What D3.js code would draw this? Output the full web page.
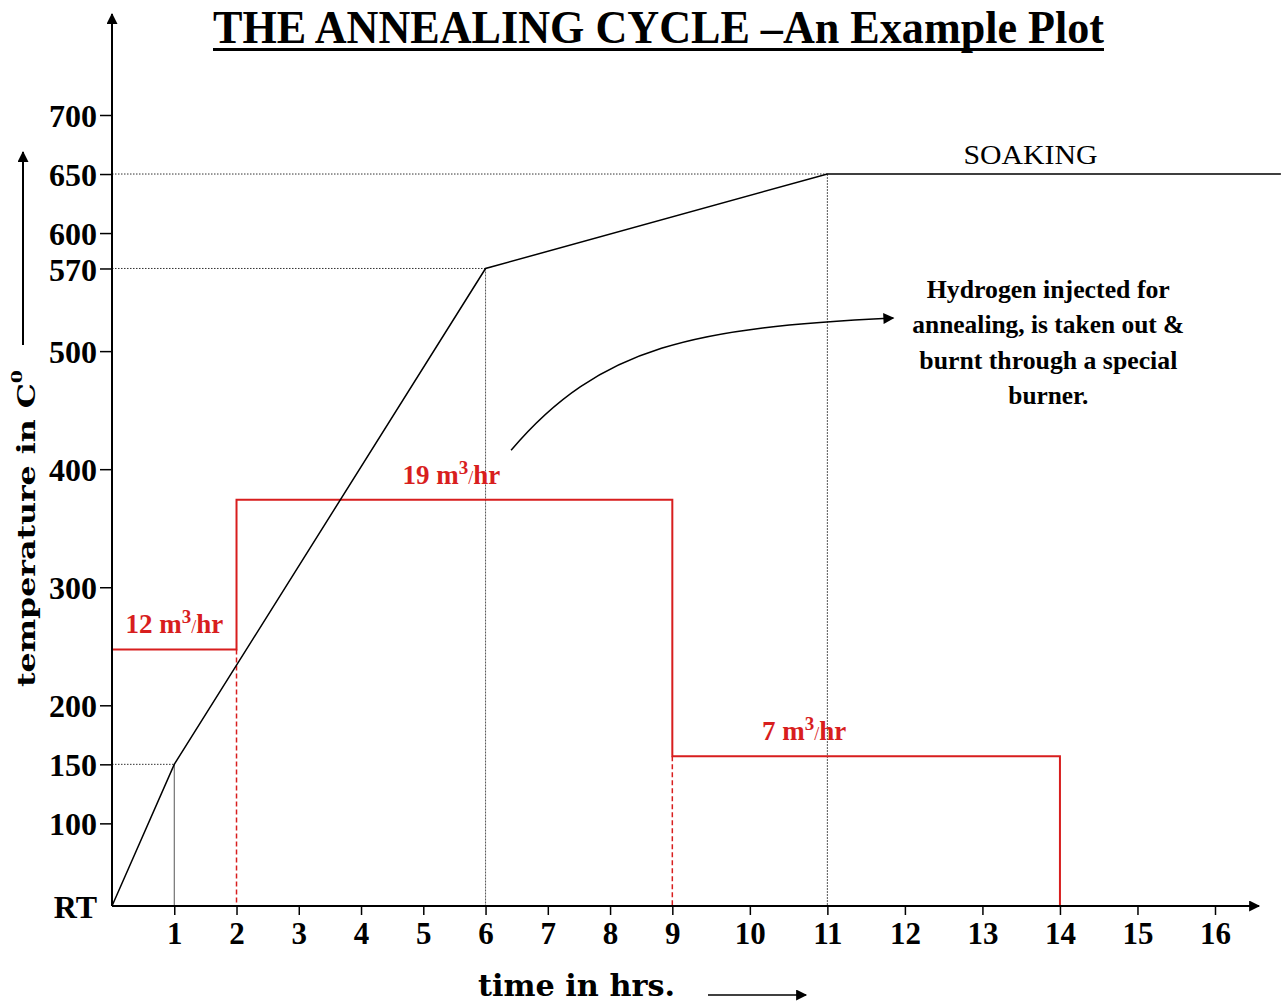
<!DOCTYPE html>
<html>
<head>
<meta charset="utf-8">
<script src="https://cdn.jsdelivr.net/npm/d3@7"></script>
<style>
  body { margin: 0; background: #fff; }
  text { font-family: "Liberation Serif", "Times New Roman", serif; }
</style>
</head>
<body>
<div id="chart"></div>
<script>
var svgWidth = 1287;
var svgHeight = 1006;

var margin = { top: 115, right: 72, bottom: 100, left: 112 };
var width = 1215 - margin.left;   // plot runs up to the "16" tick
var height = 906 - margin.top;

// temperature profile (RT = room temperature)
var RT = 30;
var tempTimes = [0, 1, 6, 11, 16.85];
var tempValues = [RT, 150, 570, 650, 650];

// hydrogen flow in m3/hr, changes at these times
var flowTimes = [0, 2, 9, 14];
var flowRates = [12, 19, 7, 0];

// where the flow labels sit
var flowLabelTimes = [1, 5.45, 10.7];
var flowLabelRates = [12, 19, 7];

var xTicks = d3.range(1, 17);
var yTicks = [RT, 100, 150, 200, 300, 400, 500, 570, 600, 650, 700];

var noteLines = ["Hydrogen injected for", "annealing, is taken out &",
  "burnt through a special", "burner."];
var noteWidths = [243, 272, 258, 80];

var red = "#d81e1e";

var svg = d3.select("#chart")
  .append("svg")
  .attr("width", svgWidth)
  .attr("height", svgHeight);

// arrow head
svg.append("defs").append("marker")
  .attr("id", "arrow")
  .attr("viewBox", "0 0 10 10")
  .attr("refX", 9)
  .attr("refY", 5)
  .attr("markerUnits", "userSpaceOnUse")
  .attr("markerWidth", 14)
  .attr("markerHeight", 11)
  .attr("orient", "auto")
  .append("path")
  .attr("d", "M0,0 L10,5 L0,10 z")
  .attr("fill", "#000");

var chartGroup = svg.append("g")
  .attr("transform", `translate(${margin.left}, ${margin.top})`);

// time axis is drawn wider after 9 hrs, like the original sketch
var x = d3.scaleLinear()
  .domain([0, 9, 16])
  .range([0, width * 0.508, width]);

var y = d3.scaleLinear()
  .domain([RT, 700])
  .range([height, 0]);

// second (hidden) scale for the hydrogen flow
var flowY = d3.scaleLinear()
  .domain([0, 37])
  .range([height, 0]);

var tempData = tempTimes.map((t, i) => ({ t: t, v: tempValues[i] }));
var flowData = flowTimes.map((t, i) => ({ t: t, v: flowRates[i] }));

// dotted guides to the break points
var guides = tempData.slice(1, 4);

chartGroup.selectAll(".hguide")
  .data(guides)
  .enter()
  .append("line")
  .attr("x1", 0)
  .attr("x2", d => x(d.t))
  .attr("y1", d => y(d.v))
  .attr("y2", d => y(d.v))
  .attr("stroke", "#333")
  .attr("stroke-width", 1)
  .attr("stroke-dasharray", "1.5,1.5");

chartGroup.selectAll(".vguide")
  .data(guides)
  .enter()
  .append("line")
  .attr("x1", d => x(d.t))
  .attr("x2", d => x(d.t))
  .attr("y1", d => y(d.v))
  .attr("y2", height)
  .attr("stroke", "#555")
  .attr("stroke-width", 1)
  .attr("stroke-dasharray", (d, i) => i === 0 ? null : "2,1");

// hydrogen flow steps
var stepLine = d3.line()
  .x(d => x(d.t))
  .y(d => flowY(d.v))
  .curve(d3.curveStepAfter);

chartGroup.append("path")
  .datum(flowData)
  .attr("d", stepLine)
  .attr("fill", "none")
  .attr("stroke", red)
  .attr("stroke-width", 2);

// dashed drops at the step changes
var drops = flowData.slice(1, -1).map((d, i) => ({
  t: d.t, v: Math.min(d.v, flowData[i].v)
}));

chartGroup.selectAll(".drop")
  .data(drops)
  .enter()
  .append("line")
  .attr("x1", d => x(d.t))
  .attr("x2", d => x(d.t))
  .attr("y1", d => flowY(d.v))
  .attr("y2", height)
  .attr("stroke", red)
  .attr("stroke-width", 1.5)
  .attr("stroke-dasharray", "5,3");

var flowLabels = chartGroup.selectAll(".flowLabel")
  .data(flowLabelTimes)
  .enter()
  .append("text")
  .attr("x", d => x(d))
  .attr("y", (d, i) => flowY(flowLabelRates[i]) - 16)
  .attr("text-anchor", "middle")
  .attr("fill", red)
  .attr("font-weight", "bold")
  .attr("font-size", "27px");

flowLabels.append("tspan").text((d, i) => flowLabelRates[i] + " m");
flowLabels.append("tspan")
  .attr("font-size", "19px")
  .attr("dy", -10)
  .text("3");
flowLabels.append("tspan")
  .attr("dy", 10)
  .attr("font-size", "18px")
  .attr("font-weight", "normal")
  .text("/");
flowLabels.append("tspan").text("hr");

// temperature curve
var tempLine = d3.line()
  .x(d => x(d.t))
  .y(d => y(d.v));

chartGroup.append("path")
  .datum(tempData)
  .attr("d", tempLine)
  .attr("fill", "none")
  .attr("stroke", "#000")
  .attr("stroke-width", 1.5);

chartGroup.append("text")
  .attr("x", x(13.62))
  .attr("y", y(650) - 10)
  .attr("text-anchor", "middle")
  .attr("font-size", "28px")
  .attr("textLength", 134)
  .attr("lengthAdjust", "spacingAndGlyphs")
  .text("SOAKING");

// note about the hydrogen
chartGroup.selectAll(".note")
  .data(noteLines)
  .enter()
  .append("text")
  .attr("x", x(13.85))
  .attr("y", (d, i) => y(545) + i * 35.5)
  .attr("text-anchor", "middle")
  .attr("font-weight", "bold")
  .attr("font-size", "26px")
  .attr("textLength", (d, i) => noteWidths[i])
  .attr("lengthAdjust", "spacingAndGlyphs")
  .text(d => d);

var curve = d3.path();
curve.moveTo(x(6.41), y(416));
curve.bezierCurveTo(x(7.84), y(505), x(9.3), y(520), x(11.85), y(528));
chartGroup.append("path")
  .attr("d", curve.toString())
  .attr("fill", "none")
  .attr("stroke", "#000")
  .attr("stroke-width", 1.5)
  .attr("marker-end", "url(#arrow)");

// axes
var leftAxis = d3.axisLeft(y)
  .tickValues(yTicks)
  .tickSize(12)
  .tickPadding(3)
  .tickFormat(d => d === RT ? "RT" : d);

var yAxis = chartGroup.append("g").call(leftAxis);
yAxis.select(".domain").remove();
yAxis.selectAll(".tick line").attr("stroke-width", 1.5)
  .filter(d => d === RT).remove();
yAxis.selectAll(".tick text")
  .attr("fill", "#000")
  .style("font-family", "Liberation Serif, serif")
  .attr("font-weight", "bold")
  .attr("font-size", "32px")
  .attr("dy", "0.36em");

var bottomAxis = d3.axisBottom(x)
  .tickValues(xTicks)
  .tickSize(9)
  .tickPadding(6);

var xAxis = chartGroup.append("g")
  .attr("transform", `translate(0, ${height})`)
  .call(bottomAxis);
xAxis.select(".domain").remove();
xAxis.selectAll(".tick line").attr("stroke-width", 1.5);
xAxis.selectAll(".tick text")
  .attr("fill", "#000")
  .style("font-family", "Liberation Serif, serif")
  .attr("font-weight", "bold")
  .attr("font-size", "31px")
  .attr("dy", "0.75em");

chartGroup.append("line")
  .attr("x1", 0).attr("y1", height)
  .attr("x2", 0).attr("y2", 14 - margin.top)
  .attr("stroke", "#000")
  .attr("stroke-width", 2)
  .attr("marker-end", "url(#arrow)");

chartGroup.append("line")
  .attr("x1", 0).attr("y1", height)
  .attr("x2", width + 44).attr("y2", height)
  .attr("stroke", "#000")
  .attr("stroke-width", 2)
  .attr("marker-end", "url(#arrow)");

// axis labels
svg.append("text")
  .attr("x", 478)
  .attr("y", 996)
  .style("font-family", "DejaVu Serif, serif")
  .attr("font-weight", "bold")
  .attr("font-size", "29px")
  .attr("textLength", 197)
  .attr("lengthAdjust", "spacingAndGlyphs")
  .text("time in hrs.");

svg.append("line")
  .attr("x1", 708).attr("y1", 995)
  .attr("x2", 806).attr("y2", 995)
  .attr("stroke", "#000")
  .attr("stroke-width", 1.5)
  .attr("marker-end", "url(#arrow)");

var yLabel = svg.append("text")
  .attr("transform", "translate(35, 687) rotate(-90)")
  .style("font-family", "DejaVu Serif, serif")
  .attr("font-weight", "bold")
  .attr("font-size", "25px")
  .attr("textLength", 317)
  .attr("lengthAdjust", "spacingAndGlyphs");
yLabel.append("tspan").text("temperature in C");
yLabel.append("tspan")
  .attr("font-size", "15px")
  .attr("dy", -13)
  .text("0");

svg.append("line")
  .attr("x1", 23).attr("y1", 345)
  .attr("x2", 23).attr("y2", 152)
  .attr("stroke", "#000")
  .attr("stroke-width", 2)
  .attr("marker-end", "url(#arrow)");

// title
svg.append("text")
  .attr("x", 213)
  .attr("y", 43)
  .attr("font-weight", "bold")
  .attr("font-size", "46px")
  .attr("textLength", 891)
  .attr("lengthAdjust", "spacingAndGlyphs")
  .text("THE ANNEALING CYCLE \u2013An Example Plot");

svg.append("rect")
  .attr("x", 213)
  .attr("y", 48)
  .attr("width", 891)
  .attr("height", 3)
  .attr("fill", "#000");
</script>
</body>
</html>
